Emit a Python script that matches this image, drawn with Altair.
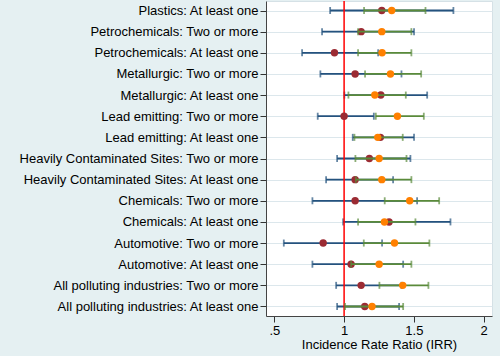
import altair as alt
import pandas as pd

categories = [
    "Plastics: At least one",
    "Petrochemicals: Two or more",
    "Petrochemicals: At least one",
    "Metallurgic: Two or more",
    "Metallurgic: At least one",
    "Lead emitting: Two or more",
    "Lead emitting: At least one",
    "Heavily Contaminated Sites: Two or more",
    "Heavily Contaminated Sites: At least one",
    "Chemicals: Two or more",
    "Chemicals: At least one",
    "Automotive: Two or more",
    "Automotive: At least one",
    "All polluting industries: Two or more",
    "All polluting industries: At least one",
]

# Series 1 (dark red markers, blue CIs)
s1_est = [1.27, 1.122, 0.931, 1.079, 1.263, 1.00, 1.26, 1.181, 1.079, 1.079, 1.322, 0.850, 1.050, 1.122, 1.148]
s1_lo  = [0.90, 0.842, 0.699, 0.830, 1.002, 0.811, 1.062, 0.950, 0.871, 0.773, 0.993, 0.568, 0.773, 0.943, 0.950]
s1_hi  = [1.783, 1.501, 1.244, 1.411, 1.595, 1.213, 1.501, 1.475, 1.351, 1.523, 1.762, 1.272, 1.423, 1.411, 1.394]

# Series 2 (orange markers, green CIs)
s2_est = [1.341, 1.27, 1.272, 1.332, 1.22, 1.382, 1.241, 1.251, 1.27, 1.47, 1.289, 1.361, 1.251, 1.42, 1.20]
s2_lo  = [1.143, 1.10, 1.10, 1.150, 1.031, 1.227, 1.074, 1.081, 1.084, 1.291, 1.10, 1.141, 1.050, 1.253, 1.007]
s2_hi  = [1.583, 1.482, 1.482, 1.552, 1.442, 1.571, 1.42, 1.447, 1.482, 1.681, 1.511, 1.611, 1.482, 1.604, 1.423]

x_ticks = [0.5, 1.0, 1.5, 2.0]
ref_value = [1.0]

d1 = pd.DataFrame({"cat": categories, "est": s1_est, "lo": s1_lo, "hi": s1_hi})
d2 = pd.DataFrame({"cat": categories, "est": s2_est, "lo": s2_lo, "hi": s2_hi})
dref = pd.DataFrame({"v": ref_value})

BLUE = "#24527E"
GREEN = "#5A8A3A"
RED = "#9B2B33"
ORANGE = "#FF8000"

xscale = alt.Scale(domain=[0.4405, 2.0595], nice=False, zero=False)
yscale = alt.Scale(domain=categories, type="point", padding=0.45)

xaxis = alt.Axis(
    values=x_ticks,
    title="Incidence Rate Ratio (IRR)",
    labelExpr="datum.value == 0.5 ? '.5' : format(datum.value, '')",
    grid=False,
    labelFontSize=13,
    titleFontSize=13,
    labelFont="Liberation Sans",
    titleFont="Liberation Sans",
    labelColor="#000000",
    titleColor="#000000",
    titleFontWeight="normal",
    tickSize=6,
    tickColor="#333333",
    domainColor="#444444",
    labelPadding=2,
    titlePadding=1,
    labelFlush=False,
)
yaxis = alt.Axis(
    title=None,
    grid=True,
    gridColor="#DCE7EC",
    gridWidth=1,
    labelFontSize=13,
    labelFont="Liberation Sans",
    labelColor="#000000",
    tickSize=6,
    tickColor="#333333",
    domainColor="#444444",
    labelPadding=2,
    labelLimit=400,
)

X = lambda f: alt.X(f, type="quantitative", scale=xscale, axis=xaxis)
Y = alt.Y("cat:N", scale=yscale, axis=yaxis, sort=categories)
Yn = alt.Y("cat:N", scale=yscale, sort=categories)


def ci_layers(df, color):
    base = alt.Chart(df)
    rule = base.mark_rule(color=color, strokeWidth=1.8).encode(
        x=X("lo"), x2="hi", y=Y
    )
    t1 = base.mark_tick(color=color, thickness=1.8, size=7, orient="vertical").encode(
        x=X("lo"), y=Yn
    )
    t2 = base.mark_tick(color=color, thickness=1.8, size=7, orient="vertical").encode(
        x=X("hi"), y=Yn
    )
    return [rule, t1, t2]


def dots(df, color):
    return alt.Chart(df).mark_point(
        filled=True, color=color, size=55, opacity=1, shape="circle"
    ).encode(x=X("est"), y=Yn)


refline = alt.Chart(dref).mark_rule(color="#FF0000", strokeWidth=1.5).encode(
    x=X("v")
)

layers = ci_layers(d1, BLUE) + [refline, dots(d1, RED)] + ci_layers(d2, GREEN) + [dots(d2, ORANGE)]

chart = alt.layer(*layers).properties(
    width=226,
    height=315,
    background="#E5F0F2",
    autosize=alt.AutoSizeParams(type="none"),
    padding={"left": 266, "top": 1, "right": 8, "bottom": 40},
).configure_view(
    fill="#FFFFFF",
    stroke="#D5E1E6",
    strokeWidth=1,
)

chart.save("out.html", embed_options={"renderer": "svg", "actions": False})
